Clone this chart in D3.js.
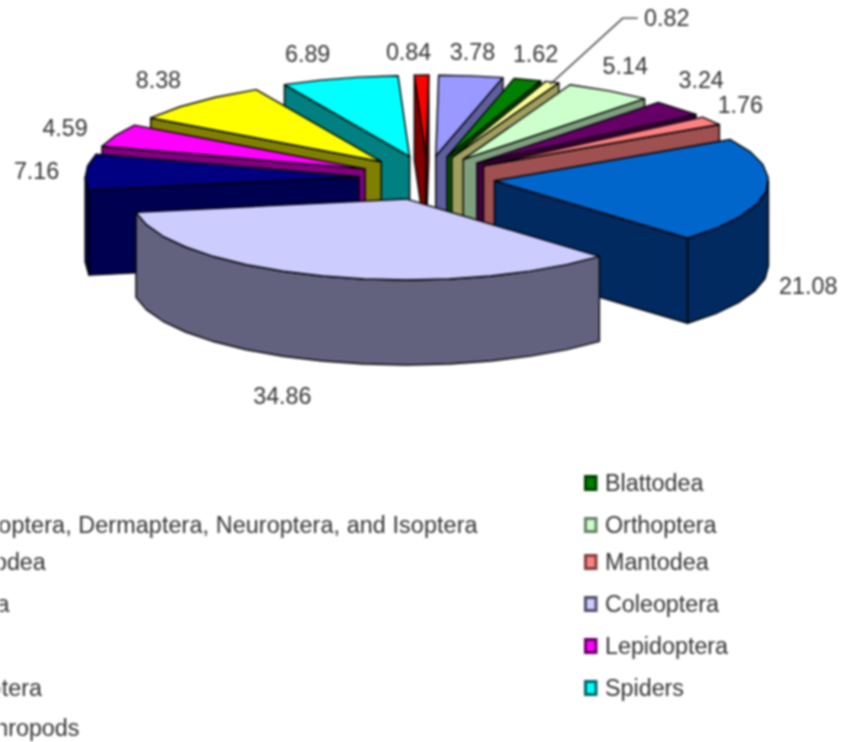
<!DOCTYPE html>
<html>
<head>
<meta charset="utf-8">
<script src="https://cdn.jsdelivr.net/npm/d3@7"></script>
<style>
html,body{margin:0;padding:0;background:#fff;overflow:hidden}
svg{display:block;filter:blur(0.9px)}
text{font-family:"Liberation Sans",Arial,sans-serif;fill:#333}
</style>
</head>
<body>
<svg id="c" width="842" height="742"></svg>
<script>
// Data, clockwise from the top of the pie
const values = [3.78, 1.62, 0.82, 5.14, 3.24, 1.76, 21.08, 34.86, 7.16, 4.59, 8.38, 6.89, 0.84];
const topColors = ["#9999FF","#008000","#FFFF99","#CCFFCC","#660066","#FF8080","#0066CC","#CCCCFF","#000080","#FF00FF","#FFFF00","#00FFFF","#FF0000"];
const wallColors = ["#5F5F9F","#004F00","#9F9F5F","#7F9F7F","#3F003F","#9F5050","#002A60","#62627F","#000050","#800080","#808000","#008080","#800000"];
// Legend: [pie index, text]. Left column starts beyond the page edge, some of its labels are cut off.
const legendLeft = [
  [2, "Ephemeroptera, Dermaptera, Neuroptera, and Isoptera"],
  [4, "Phasmatodea"],
  [6, "Hemiptera"],
  [10, "Hymenoptera"],
  [12, "Other Arthropods"]
];
const legendRight = [
  [1, "Blattodea"],
  [3, "Orthoptera"],
  [5, "Mantodea"],
  [7, "Coleoptera"],
  [9, "Lepidoptera"],
  [11, "Spiders"]
];

// Layout
const cx = 427, cy = 178, rx = 274, ry = 81, explode = 68, explodeY = 22, depth = 85;
const startDeg = 0.6, fontSize = 23.3, facet = 9, textDy = 1.5;
const leftRows = [525, 562, 604, 688, 728];
const rightRows = [483, 525, 562, 604, 646, 688];
const leftTextX = -98, rightTextX = 605, swatchX = 585.5;
const labelOffset = [[1.5,-24],[8,-25],[114.5,-64],[16,-24],[23,-28],[29,-15],[42,95],[-40,120],[-49,-1],[-50.6,-7],[-38.7,-21],[-32,-24],[-13,-23]];

const svg = d3.select("#c");
const toRad = Math.PI / 180;
const pie = d3.pie().sort(null).startAngle(startDeg * toRad).endAngle((360 + startDeg) * toRad);
const arcs = pie(values).map((d, i) => ({...d, i, mid: (d.startAngle + d.endAngle) / 2}));

const x = d3.scaleLinear().domain([-1, 1]).range([-rx, rx]);
const y = d3.scaleLinear().domain([-1, 1]).range([ry, -ry]);
const ex = d3.scaleLinear().domain([-1, 1]).range([-explode, explode]);
const ey = d3.scaleLinear().domain([-1, 1]).range([explodeY, -explodeY]);
const line = d3.line();
const closed = pts => line(pts) + "Z";

function apex(d) { return [cx + ex(Math.sin(d.mid)), cy + ey(Math.cos(d.mid))]; }
function rim(d, a) { const p = apex(d); return [p[0] + x(Math.sin(a)), p[1] + y(Math.cos(a))]; }
function samples(a0, a1) {
  const n = Math.max(1, Math.round((a1 - a0) / toRad / facet));
  return d3.range(n + 1).map(k => a0 + (a1 - a0) * k / n);
}
const down = p => [p[0], p[1] + depth];
function wall(pts) { return closed(pts.concat(pts.slice().reverse().map(down))); }

const order = arcs.slice().sort((a, b) => Math.cos(b.mid) - Math.cos(a.mid));
const stroke = "#000", sw = 1.4;
order.forEach(d => {
  const g = svg.append("g");
  const paint = path => g.append("path").attr("d", path)
    .attr("fill", wallColors[d.i]).attr("stroke", stroke).attr("stroke-width", sw).attr("stroke-linejoin", "round");
  const p = apex(d);
  if (Math.sin(d.startAngle) < 0) paint(wall([p, rim(d, d.startAngle)]));
  if (Math.sin(d.endAngle) > 0) paint(wall([p, rim(d, d.endAngle)]));
  const lo = Math.max(d.startAngle, Math.PI / 2), hi = Math.min(d.endAngle, 3 * Math.PI / 2);
  if (hi > lo) paint(wall(samples(lo, hi).map(a => rim(d, a))));
  g.append("path").attr("d", closed([p].concat(samples(d.startAngle, d.endAngle).map(a => rim(d, a)))))
    .attr("fill", topColors[d.i]).attr("stroke", stroke).attr("stroke-width", sw).attr("stroke-linejoin", "round");
});

// Data labels
arcs.forEach(d => {
  const r = rim(d, d.mid), o = labelOffset[d.i];
  const lx = r[0] + o[0], ly = r[1] + o[1];
  if (d.i === 2) {
    svg.append("path").attr("d", line([[r[0] - 2, r[1] + 2], [lx - 44, ly], [lx - 29, ly]]))
      .attr("fill", "none").attr("stroke", "#333").attr("stroke-width", 1.4);
  }
  svg.append("text").attr("x", lx).attr("y", ly + textDy).attr("text-anchor", "middle")
    .attr("dominant-baseline", "middle").attr("font-size", fontSize).text(values[d.i].toFixed(2));
});

// Legend
function legendText(entries, rows, tx) {
  entries.forEach((e, k) => {
    const long = e[1].length > 30;
    svg.append("text").attr("x", long ? tx + 1 : tx).attr("y", rows[k] + textDy).attr("dominant-baseline", "middle")
      .attr("letter-spacing", long ? 0.12 : 0)
      .attr("font-size", fontSize).text(e[1]);
  });
}
legendText(legendLeft, leftRows, leftTextX);
legendText(legendRight, rightRows, rightTextX);
legendRight.forEach((e, k) => {
  svg.append("rect").attr("x", swatchX).attr("y", rightRows[k] - 6.5).attr("width", 10.5).attr("height", 13)
    .attr("fill", topColors[e[0]]).attr("stroke", d3.color(wallColors[e[0]]).darker(0.6)).attr("stroke-width", 3);
});
</script>
</body>
</html>
